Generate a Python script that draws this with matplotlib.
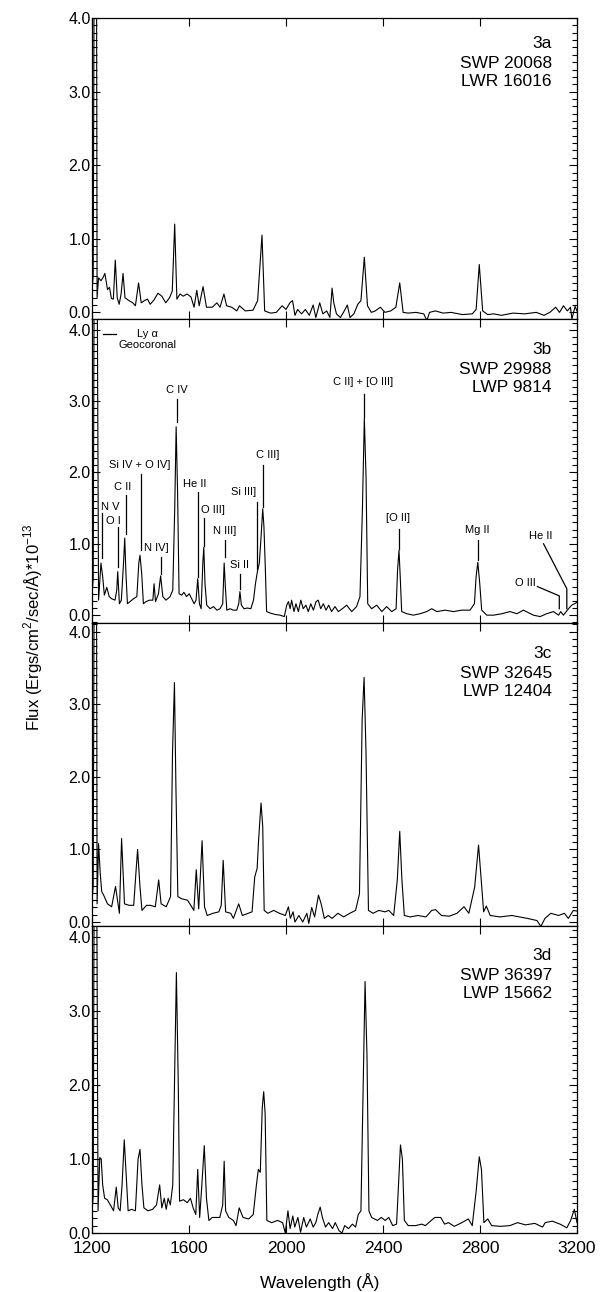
"""Four IUE spectra (3a-3d) stacked, flux vs wavelength."""

import numpy as np
from matplotlib import pyplot as plt
from matplotlib.ticker import MultipleLocator

plt.rcParams['font.family'] = ['Liberation Sans', 'DejaVu Sans']
plt.rcParams['mathtext.fontset'] = 'custom'
plt.rcParams['mathtext.rm'] = 'Liberation Sans'

# Spectrum 3a (SWP 20068 / LWR 16016), wavelength in Angstrom, flux in 1e-13 cgs
wave_a = [1200, 1205, 1210, 1218, 1221, 1227, 1237, 1245, 1253, 1264, 1272, 1280, 1288,
          1296, 1304, 1312, 1320, 1328, 1336, 1352, 1368, 1379, 1392, 1403, 1416,
          1429, 1440, 1456, 1472, 1488, 1504, 1520, 1531, 1541, 1550, 1563, 1576,
          1592, 1608, 1621, 1632, 1642, 1658, 1672, 1696, 1715, 1728, 1744, 1755,
          1776, 1797, 1808, 1832, 1864, 1883, 1901, 1912, 1936, 1960, 1984, 2000,
          2016, 2027, 2037, 2048, 2064, 2080, 2096, 2112, 2123, 2139, 2152, 2168,
          2181, 2190, 2197, 2208, 2224, 2237, 2253, 2264, 2280, 2296, 2309, 2323,
          2336, 2352, 2368, 2389, 2408, 2432, 2453, 2469, 2483, 2504, 2536, 2568,
          2581, 2592, 2616, 2648, 2680, 2728, 2768, 2784, 2797, 2811, 2832, 2856,
          2888, 2936, 2984, 3032, 3064, 3088, 3112, 3128, 3144, 3160, 3173, 3179,
          3192, 3200]
flux_a = [0.3, 0.5, 6.0, 6.0, 0.2, 0.47, 0.43, 0.47, 0.53, 0.31, 0.34, 0.19, 0.18,
          0.71, 0.2, 0.11, 0.25, 0.53, 0.2, 0.16, 0.13, 0.09, 0.4, 0.13, 0.16,
          0.18, 0.11, 0.17, 0.26, 0.22, 0.13, 0.2, 0.29, 1.2, 0.18, 0.25, 0.22,
          0.25, 0.21, 0.07, 0.3, 0.09, 0.35, 0.07, 0.07, 0.13, 0.07, 0.25, 0.09,
          0.07, 0.02, 0.09, 0.02, 0.03, 0.16, 1.05, 0.02, -0.01, 0.0, 0.09, 0.04,
          0.13, 0.16, -0.04, 0.04, -0.02, 0.04, -0.04, 0.1, -0.07, 0.13, -0.02, 0.02,
          -0.07, 0.33, 0.13, -0.02, -0.07, 0.0, 0.1, -0.07, -0.02, 0.11, 0.16, 0.75,
          0.09, 0.0, 0.02, 0.07, 0.0, 0.02, 0.07, 0.4, 0.0, -0.01, 0.0, -0.02,
          -0.11, 0.0, 0.02, -0.01, 0.0, -0.03, -0.02, 0.04, 0.65, 0.02, -0.03, -0.02,
          -0.04, -0.01, -0.02, 0.0, -0.04, 0.0, 0.07, 0.0, 0.09, 0.02, 0.07, -0.09,
          0.08, 0.02]

# Spectrum 3b (SWP 29988 / LWP 9814)
wave_b = [1200, 1205, 1210, 1220, 1227, 1237, 1244, 1251, 1261, 1271, 1281, 1295, 1302,
          1306, 1313, 1321, 1330, 1335, 1340, 1346, 1357, 1371, 1385, 1393, 1398,
          1405, 1412, 1423, 1437, 1451, 1456, 1462, 1474, 1483, 1492, 1505, 1522,
          1533, 1541, 1547, 1553, 1559, 1570, 1579, 1590, 1601, 1611, 1621, 1629,
          1636, 1643, 1650, 1657, 1661, 1666, 1673, 1687, 1701, 1715, 1728, 1739,
          1745, 1750, 1756, 1769, 1783, 1797, 1805, 1810, 1816, 1827, 1841, 1855,
          1866, 1874, 1882, 1890, 1897, 1904, 1909, 1915, 1920, 1934, 1955, 1975,
          1993, 2003, 2010, 2017, 2023, 2033, 2041, 2051, 2061, 2071, 2082, 2092,
          2102, 2113, 2124, 2133, 2143, 2154, 2165, 2176, 2188, 2202, 2216, 2236,
          2250, 2271, 2291, 2305, 2315, 2323, 2330, 2337, 2353, 2374, 2395, 2415,
          2436, 2454, 2460, 2466, 2471, 2477, 2498, 2525, 2553, 2580, 2601, 2622,
          2656, 2691, 2725, 2759, 2777, 2784, 2791, 2799, 2807, 2828, 2856, 2890,
          2924, 2952, 2979, 3020, 3048, 3075, 3103, 3124, 3133, 3144, 3165, 3178,
          3190, 3200]
flux_b = [0.3, 0.5, 6.0, 6.0, 0.21, 0.73, 0.54, 0.28, 0.39, 0.26, 0.23, 0.21, 0.35,
          0.61, 0.16, 0.21, 0.73, 1.08, 0.58, 0.16, 0.19, 0.23, 0.26, 0.73, 0.84,
          0.58, 0.16, 0.19, 0.21, 0.21, 0.44, 0.19, 0.3, 0.55, 0.26, 0.21, 0.26,
          0.35, 1.47, 2.64, 1.71, 0.3, 0.28, 0.32, 0.26, 0.3, 0.23, 0.16, 0.21,
          0.51, 0.16, 0.09, 0.73, 0.95, 0.44, 0.14, 0.09, 0.12, 0.07, 0.09, 0.16,
          0.73, 0.39, 0.07, 0.09, 0.07, 0.07, 0.16, 0.33, 0.14, 0.09, 0.1, 0.09,
          0.21, 0.44, 0.61, 0.73, 1.09, 1.49, 1.24, 0.63, 0.05, 0.03, 0.01, 0.0,
          -0.02, 0.14, 0.19, 0.09, 0.21, 0.05, 0.16, 0.05, 0.21, 0.09, 0.14, 0.05,
          0.16, 0.07, 0.19, 0.21, 0.09, 0.16, 0.07, 0.14, 0.05, 0.12, 0.05, 0.1,
          0.14, 0.05, 0.12, 0.26, 1.47, 2.76, 1.94, 0.16, 0.09, 0.14, 0.05, 0.12,
          0.05, 0.09, 0.63, 0.91, 0.54, 0.05, 0.02, 0.0, 0.02, 0.05, 0.09, 0.05,
          0.07, 0.05, 0.07, 0.07, 0.16, 0.54, 0.74, 0.44, 0.07, 0.0, 0.0, 0.02,
          0.05, 0.02, 0.07, 0.0, -0.02, 0.02, 0.05, 0.0, 0.05, 0.0, 0.09, 0.14,
          0.16, 0.18]

# Spectrum 3c (SWP 32645 / LWP 12404)
wave_c = [1200, 1205, 1210, 1218, 1221, 1227, 1234, 1240, 1248, 1264, 1281, 1297, 1313,
          1322, 1334, 1353, 1372, 1382, 1388, 1398, 1406, 1425, 1441, 1461, 1475,
          1485, 1506, 1524, 1532, 1540, 1546, 1554, 1570, 1594, 1611, 1620, 1630,
          1640, 1654, 1664, 1675, 1699, 1723, 1733, 1741, 1751, 1772, 1783, 1805,
          1820, 1844, 1860, 1871, 1881, 1887, 1897, 1904, 1910, 1925, 1949, 1973,
          1997, 2010, 2018, 2029, 2037, 2053, 2069, 2086, 2094, 2106, 2118, 2134,
          2145, 2158, 2174, 2190, 2214, 2238, 2263, 2287, 2303, 2314, 2322, 2330,
          2340, 2359, 2383, 2408, 2424, 2444, 2459, 2469, 2478, 2488, 2512, 2544,
          2577, 2601, 2617, 2641, 2673, 2705, 2734, 2754, 2778, 2794, 2805, 2815,
          2826, 2842, 2882, 2931, 2963, 2995, 3035, 3051, 3068, 3092, 3124, 3148,
          3164, 3185, 3200]
flux_c = [0.3, 0.5, 6.0, 6.0, 0.25, 1.08, 0.67, 0.42, 0.37, 0.25, 0.21, 0.49, 0.12,
          1.15, 0.25, 0.23, 0.23, 0.72, 1.0, 0.48, 0.16, 0.23, 0.23, 0.21, 0.58,
          0.25, 0.21, 0.35, 2.33, 3.3, 1.87, 0.35, 0.32, 0.3, 0.21, 0.16, 0.72,
          0.18, 1.12, 0.21, 0.09, 0.12, 0.14, 0.23, 0.85, 0.14, 0.12, 0.05, 0.25,
          0.09, 0.12, 0.14, 0.62, 0.74, 1.13, 1.64, 1.32, 0.16, 0.12, 0.16, 0.12,
          0.09, 0.21, 0.05, 0.14, 0.0, 0.09, 0.0, 0.12, -0.02, 0.2, 0.07, 0.37,
          0.25, 0.05, 0.09, 0.05, 0.12, 0.07, 0.12, 0.16, 0.39, 2.79, 3.37, 2.33,
          0.16, 0.12, 0.16, 0.14, 0.16, 0.09, 0.58, 1.25, 0.58, 0.09, 0.07, 0.09,
          0.07, 0.16, 0.17, 0.09, 0.08, 0.12, 0.21, 0.12, 0.48, 1.06, 0.58, 0.14,
          0.22, 0.09, 0.07, 0.09, 0.07, 0.05, 0.02, -0.06, 0.05, 0.12, 0.09, 0.12,
          0.05, 0.16, 0.15]

# Spectrum 3d (SWP 36397 / LWP 15662)
wave_d = [1200, 1205, 1210, 1218, 1225, 1232, 1238, 1244, 1252, 1263, 1279, 1289, 1300,
          1308, 1316, 1324, 1333, 1343, 1349, 1363, 1379, 1390, 1398, 1406, 1414,
          1431, 1450, 1466, 1479, 1488, 1498, 1506, 1514, 1523, 1533, 1542, 1548,
          1556, 1561, 1577, 1593, 1606, 1617, 1628, 1636, 1644, 1653, 1663, 1672,
          1682, 1696, 1712, 1727, 1739, 1745, 1751, 1764, 1783, 1794, 1807, 1823,
          1846, 1865, 1878, 1886, 1894, 1902, 1908, 1914, 1921, 1941, 1965, 1986,
          1997, 2008, 2017, 2028, 2036, 2049, 2060, 2073, 2084, 2100, 2112, 2123,
          2131, 2141, 2150, 2163, 2176, 2192, 2203, 2219, 2231, 2242, 2258, 2274,
          2287, 2298, 2309, 2318, 2326, 2334, 2342, 2353, 2377, 2393, 2409, 2424,
          2440, 2456, 2464, 2472, 2480, 2488, 2504, 2535, 2559, 2575, 2599, 2614,
          2638, 2654, 2670, 2694, 2725, 2752, 2768, 2784, 2797, 2806, 2816, 2832,
          2848, 2884, 2923, 2955, 2987, 3026, 3058, 3069, 3098, 3130, 3158, 3174,
          3189, 3200]
flux_d = [0.3, 0.5, 6.0, 6.0, 0.3, 1.02, 1.0, 0.65, 0.47, 0.45, 0.36, 0.3, 0.62,
          0.34, 0.3, 0.65, 1.26, 0.65, 0.3, 0.32, 0.3, 1.0, 1.13, 0.65, 0.34,
          0.3, 0.32, 0.38, 0.65, 0.34, 0.47, 0.32, 0.47, 0.38, 0.65, 2.39, 3.52,
          1.96, 0.43, 0.45, 0.41, 0.47, 0.34, 0.25, 0.86, 0.21, 0.65, 1.18, 0.47,
          0.17, 0.21, 0.21, 0.21, 0.38, 0.97, 0.3, 0.21, 0.17, 0.1, 0.34, 0.21,
          0.19, 0.25, 0.65, 0.86, 0.82, 1.69, 1.91, 1.61, 0.17, 0.14, 0.17, 0.14,
          0.0, 0.3, 0.06, 0.23, 0.08, 0.21, 0.01, 0.21, 0.08, 0.19, 0.08, 0.14,
          0.25, 0.35, 0.21, 0.08, 0.14, 0.06, 0.14, 0.03, 0.0, 0.1, 0.06, 0.12,
          0.08, 0.25, 0.3, 1.96, 3.4, 2.39, 0.3, 0.21, 0.17, 0.21, 0.17, 0.21,
          0.1, 0.12, 0.65, 1.19, 1.0, 0.17, 0.1, 0.1, 0.12, 0.1, 0.17, 0.21,
          0.21, 0.12, 0.14, 0.09, 0.14, 0.19, 0.1, 0.56, 1.03, 0.86, 0.14, 0.19,
          0.1, 0.09, 0.1, 0.14, 0.11, 0.13, 0.08, 0.14, 0.16, 0.12, 0.07, 0.17,
          0.32, 0.14]

panel_ids = ['3a', '3b', '3c', '3d']
swp_ids = ['SWP 20068', 'SWP 29988', 'SWP 32645', 'SWP 36397']
lw_ids = ['LWR 16016', 'LWP 9814', 'LWP 12404', 'LWP 15662']

# emission line labels in 3b: text, text x, text y, marker x, marker y top, marker y bottom
line_labels = [
    ('N V', 1277, 1.51, 1243, 1.43, 0.80),
    ('O I', 1290, 1.32, 1307, 1.23, 0.68),
    ('C II', 1327, 1.80, 1339, 1.69, 1.14),
    ('Si IV + O IV]', 1398, 2.10, 1401, 1.98, 0.91),
    ('N IV]', 1467, 0.94, 1483, 0.82, 0.58),
    ('C IV', 1549, 3.16, 1550, 3.03, 2.71),
    ('He II', 1622, 1.84, 1636, 1.72, 0.54),
    ('O III]', 1700, 1.47, 1661, 1.36, 0.97),
    ('N III]', 1748, 1.18, 1748, 1.05, 0.82),
    ('Si II', 1808, 0.70, 1810, 0.58, 0.37),
    ('Si III]', 1827, 1.73, 1882, 1.59, 0.65),
    ('C III]', 1925, 2.25, 1904, 2.11, 1.52),
    ('C II] + [O III]', 2319, 3.27, 2323, 3.10, 2.78),
    ('[O II]', 2463, 1.36, 2465, 1.21, 0.93),
    ('Mg II', 2789, 1.19, 2790, 1.05, 0.77),
]
# bent leaders near the red end of 3b
leader_labels = [
    ('O III', 2986, 0.45, [3037, 3127, 3127], [0.40, 0.27, 0.09]),
    ('He II', 3050, 1.11, [3062, 3158, 3158], [1.00, 0.37, 0.09]),
]

waves = [wave_a, wave_b, wave_c, wave_d]
fluxes = [flux_a, flux_b, flux_c, flux_d]

# panel layout in pixels (top, bottom) and y ranges
W, H = 605, 1292
left_px, right_px = 92, 577
panel_px = [(18, 319), (319, 623), (623, 926), (926, 1233)]
ylims = [(-0.09, 4.0), (-0.11, 4.15), (-0.055, 4.12), (0.0, 4.15)]
id_offsets = [(25, 45, 63), (31, 51, 69), (30, 50, 69), (29, 49, 67)]

fig = plt.figure(figsize=(W / 100, H / 100), dpi=100)

axes = []
for i in range(4):
    top, bot = panel_px[i]
    ax = fig.add_axes([left_px / W, 1 - bot / H, (right_px - left_px) / W, (bot - top) / H])
    ax.plot(waves[i], fluxes[i], color='black', lw=0.8)
    ax.set_xlim(1200, 3200)
    ax.set_ylim(*ylims[i])
    ax.xaxis.set_major_locator(MultipleLocator(400))
    ax.yaxis.set_major_locator(MultipleLocator(1.0))
    ax.yaxis.set_minor_locator(MultipleLocator(0.1))
    ax.yaxis.set_major_formatter('{x:.1f}')
    ax.tick_params(which='both', direction='in', top=True, right=True, width=0.8,
                   colors='black')
    ax.tick_params(which='major', length=6)
    ax.tick_params(which='minor', length=3.5)
    ax.tick_params(axis='y', labelsize=11.5, pad=1)
    ax.tick_params(axis='x', labelsize=12.5, pad=6)
    if i < 3:
        ax.tick_params(axis='x', labelbottom=False)
    for s in ax.spines.values():
        s.set_linewidth(0.9)
    for txt, off in zip([panel_ids[i], swp_ids[i], lw_ids[i]], id_offsets[i]):
        ax.annotate(txt, xy=(0.948, 1), xycoords='axes fraction',
                    xytext=(0, -off), textcoords='offset pixels',
                    ha='right', va='center', fontsize=12.5)
    axes.append(ax)

# line identifications on 3b
ax = axes[1]
for txt, tx, ty, mx, my0, my1 in line_labels:
    ax.text(tx, ty, txt, ha='center', va='center', fontsize=8)
    ax.plot([mx, mx], [my0, my1], color='black', lw=0.9)
for txt, tx, ty, lx, ly in leader_labels:
    ax.text(tx, ty, txt, ha='center', va='center', fontsize=8)
    ax.plot(lx, ly, color='black', lw=0.9)
ax.plot([1244, 1298], [3.94, 3.94], color='black', lw=0.9)
ax.text(1428, 3.94, 'Ly α', ha='center', va='center', fontsize=8)
ax.text(1428, 3.79, 'Geocoronal', ha='center', va='center', fontsize=8)

fig.text(320 / W, 1 - 1282 / H, 'Wavelength (Å)', ha='center', va='center', fontsize=12.5)
fig.text(33 / W, 1 - 627 / H,
         r'Flux (Ergs/cm$^{\mathregular{2}}$/sec/Å)*10$^{\mathregular{-13}}$',
         rotation=90, ha='center', va='center', fontsize=12)

fig.savefig('out.png', dpi=100)
